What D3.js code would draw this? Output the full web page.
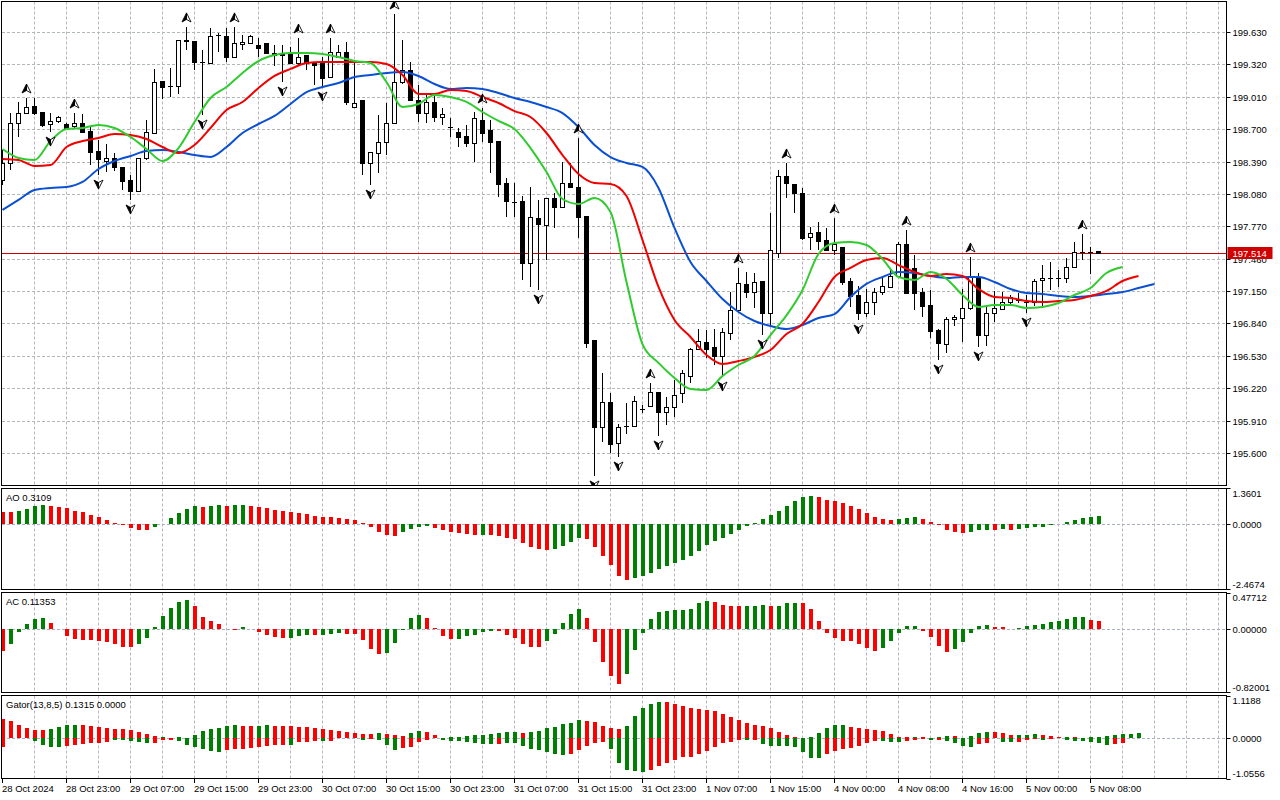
<!DOCTYPE html>
<html>
<head>
<meta charset="utf-8">
<script src="https://cdn.jsdelivr.net/npm/d3@7"></script>
<style>
body { margin: 0; background: #fff; }
svg { display: block; font-family: "Liberation Sans", Arial, sans-serif; }
</style>
</head>
<body>
<svg id="chart" width="1280" height="800"></svg>
<script>
// H1 candles, bar 0 = 28 Oct 15:00
var opens = [198.213,198.376,198.759,198.854,198.921,198.864,198.749,198.778,198.749,198.730,
198.759,198.682,198.491,198.395,198.424,198.337,198.213,198.108,198.424,198.663,
199.161,199.113,199.113,199.553,199.544,199.343,199.333,199.601,199.591,199.390,
199.515,199.524,199.505,199.524,199.429,199.419,199.429,199.333,199.410,199.333,
199.333,199.199,199.390,199.438,198.912,198.979,198.376,198.471,198.577,198.759,
199.151,199.266,198.979,198.854,198.960,198.816,198.720,198.672,198.634,198.567,
198.787,198.692,198.586,198.184,198.003,198.012,197.419,197.849,197.782,198.041,
197.955,198.184,198.146,197.868,196.682,195.849,196.088,195.695,195.858,195.858,
196.021,196.050,196.184,195.992,196.040,196.174,196.337,196.595,196.662,196.615,
196.528,196.749,196.969,197.218,197.141,197.246,196.940,197.514,198.251,198.175,
198.089,197.668,197.715,197.639,197.543,197.572,197.246,197.112,196.940,197.045,
197.141,197.189,197.294,197.600,197.371,197.141,197.017,196.777,196.643,196.883,
196.892,196.988,197.285,196.729,196.940,196.978,197.045,197.065,197.045,197.045,
197.256,197.275,197.275,197.275,197.380,197.524,197.524,197.533];
var highs = [198.500,198.854,198.960,198.998,198.998,198.864,198.854,198.826,198.759,198.854,
198.845,198.720,198.596,198.558,198.471,198.337,198.261,198.424,198.787,199.276,
199.161,199.285,199.553,199.678,199.544,199.457,199.668,199.620,199.668,199.678,
199.601,199.601,199.572,199.524,199.505,199.505,199.486,199.572,199.410,199.333,
199.390,199.572,199.505,199.534,199.362,198.979,198.481,198.835,198.950,199.802,
199.553,199.343,199.122,199.046,199.046,198.902,198.807,198.711,198.740,198.864,
198.902,198.787,198.586,198.232,198.184,198.060,198.146,198.022,198.041,198.089,
198.385,198.376,198.615,197.868,196.682,196.366,196.174,195.877,196.079,196.145,
196.059,196.270,196.184,196.136,196.299,196.394,196.605,196.787,196.777,196.787,
196.796,197.141,197.371,197.332,197.323,197.246,197.897,198.309,198.376,198.175,
198.137,197.763,197.811,197.753,197.849,197.572,197.275,197.198,197.170,197.179,
197.275,197.352,197.620,197.734,197.495,197.179,197.160,196.787,196.902,196.921,
197.170,197.476,197.323,197.017,197.150,197.141,197.112,197.131,197.112,197.266,
197.399,197.428,197.352,197.466,197.620,197.696,197.572,197.533];
var lows = [198.165,198.309,198.625,198.854,198.835,198.720,198.672,198.759,198.701,198.711,
198.672,198.357,198.260,198.290,198.300,198.117,198.022,198.098,198.404,198.663,
198.988,199.007,199.036,199.457,199.266,198.835,199.333,199.438,199.343,199.381,
199.457,199.524,199.390,199.419,199.304,199.151,199.333,199.314,199.266,199.122,
199.103,199.190,199.381,198.931,198.912,198.261,198.165,198.280,198.452,198.759,
199.132,198.979,198.768,198.759,198.768,198.740,198.625,198.529,198.529,198.385,
198.577,198.280,198.050,197.859,197.859,197.256,197.189,197.160,197.447,197.753,
197.955,198.146,197.658,196.605,195.380,195.705,195.600,195.562,195.782,195.858,
195.983,196.040,195.763,195.868,195.944,196.079,196.270,196.595,196.509,196.442,
196.327,196.682,196.949,197.084,196.988,196.729,196.825,197.466,198.041,197.897,
197.639,197.543,197.543,197.543,197.495,197.208,196.997,196.873,196.902,196.921,
197.112,197.179,197.285,197.131,196.969,196.902,196.701,196.490,196.557,196.816,
196.662,196.969,196.615,196.624,196.854,196.978,197.017,197.036,196.940,197.007,
196.997,197.160,197.189,197.227,197.371,197.447,197.313,197.505];
var closes = [198.376,198.759,198.854,198.912,198.854,198.740,198.778,198.816,198.711,198.759,
198.672,198.481,198.414,198.424,198.337,198.203,198.108,198.424,198.672,199.151,
199.103,199.108,199.553,199.544,199.343,199.338,199.591,199.601,199.390,199.524,
199.534,199.591,199.477,199.429,199.410,199.410,199.333,199.390,199.333,199.314,
199.190,199.438,199.438,198.960,198.950,198.376,198.481,198.577,198.759,199.151,
199.266,198.979,198.854,198.960,198.816,198.845,198.720,198.625,198.567,198.807,
198.663,198.577,198.175,198.012,198.003,197.419,197.859,197.792,198.041,197.955,
198.184,198.146,197.859,196.653,195.849,196.088,195.686,195.849,195.858,196.098,
196.021,196.184,195.992,196.040,196.155,196.366,196.595,196.672,196.595,196.528,
196.758,196.969,197.227,197.141,197.237,196.940,197.543,198.251,198.184,198.089,
197.658,197.706,197.629,197.543,197.600,197.237,197.103,196.940,197.045,197.141,
197.198,197.294,197.600,197.131,197.131,197.007,196.768,196.653,196.883,196.902,
196.988,197.285,196.729,196.940,196.988,197.045,197.093,197.065,197.045,197.246,
197.275,197.275,197.275,197.380,197.524,197.524,197.524,197.514];
var lastPrice = 197.514;

// Alligator, one value every second bar (bar 0, 2, 4, ...)
var jaw = [197.926,198.022,198.117,198.137,198.146,198.194,198.318,198.395,198.443,198.491,
198.500,198.481,198.452,198.433,198.529,198.663,198.749,198.826,198.941,199.055,
199.103,199.142,199.199,199.218,199.237,199.247,199.209,199.132,199.084,199.094,
199.084,199.046,198.998,198.960,198.912,198.854,198.720,198.548,198.433,198.376,
198.338,198.137,197.754,197.428,197.246,197.074,196.950,196.863,196.816,196.787,
196.825,196.892,196.930,197.093,197.218,197.285,197.332,197.323,197.294,197.275,
197.285,197.285,197.237,197.170,197.131,197.122,197.103,197.093,197.103,197.122,
197.141,197.179,197.218];
var teeth = [198.414,198.404,198.347,198.357,198.529,198.586,198.615,198.653,198.644,198.606,
198.529,198.471,198.548,198.711,198.883,198.960,199.094,199.209,199.276,199.333,
199.343,199.343,199.343,199.343,199.323,199.218,199.036,199.036,199.074,199.065,
199.007,198.950,198.873,198.816,198.663,198.452,198.270,198.184,198.175,198.060,
197.639,197.189,196.873,196.710,196.538,196.452,196.480,196.519,196.586,196.739,
196.835,197.045,197.285,197.371,197.447,197.466,197.399,197.332,197.294,197.313,
197.294,197.170,197.093,197.084,197.055,197.045,197.055,197.065,197.103,197.151,
197.246,197.294];
var lips = [198.510,198.424,198.404,198.586,198.701,198.711,198.740,198.711,198.625,198.510,
198.395,198.519,198.768,198.998,199.103,199.237,199.352,199.409,199.429,199.429,
199.419,199.390,199.352,199.333,199.151,198.912,198.941,199.027,199.007,198.960,
198.864,198.778,198.701,198.519,198.290,198.031,197.983,198.041,197.907,197.237,
196.643,196.462,196.318,196.213,196.203,196.337,196.442,196.528,196.729,196.917,
197.160,197.505,197.610,197.620,197.591,197.457,197.285,197.256,197.332,197.266,
197.112,196.998,197.017,197.017,196.988,196.998,197.036,197.112,197.179,197.323,
197.380];

var fractalUp = [3, 9, 23, 29, 37, 41, 49, 60, 72, 81, 92, 98, 104, 113, 121, 135];
var fractalDown = [6, 12, 16, 25, 35, 40, 46, 67, 74, 77, 82, 90, 95, 107, 117, 122, 128];

// Awesome oscillator
var ao = [0.45,0.44,0.50,0.58,0.67,0.73,0.69,0.65,0.59,0.50,
0.44,0.35,0.28,0.16,0.05,-0.04,-0.16,-0.24,-0.25,-0.13,
-0.02,0.21,0.40,0.57,0.67,0.65,0.69,0.73,0.69,0.70,
0.73,0.69,0.65,0.62,0.54,0.50,0.44,0.40,0.39,0.31,
0.28,0.27,0.24,0.20,0.16,0.04,-0.11,-0.31,-0.43,-0.44,
-0.31,-0.20,-0.13,-0.08,-0.16,-0.24,-0.31,-0.35,-0.39,-0.43,
-0.42,-0.43,-0.46,-0.54,-0.58,-0.73,-0.88,-0.95,-0.99,-0.95,
-0.84,-0.69,-0.54,-0.58,-0.88,-1.22,-1.56,-1.97,-2.12,-2.05,
-1.97,-1.86,-1.71,-1.60,-1.48,-1.37,-1.22,-1.03,-0.80,-0.65,
-0.54,-0.39,-0.24,-0.09,0.05,0.20,0.35,0.50,0.69,0.88,
1.03,1.07,1.03,0.92,0.88,0.80,0.69,0.58,0.43,0.28,
0.20,0.16,0.20,0.24,0.25,0.20,0.09,-0.06,-0.24,-0.31,
-0.35,-0.31,-0.24,-0.23,-0.24,-0.20,-0.24,-0.20,-0.16,-0.13,
-0.12,-0.05,-0.02,0.09,0.16,0.24,0.28,0.3109];
var aoColors = ('rrggggrrrr' + 'rrrrrrrrrg' + 'gggggrggrg' + 'grrrrrrrrr' + 'rrrrrrrrrr' +
  'ggggrrrrrr' + 'grrrrrrrrg' + 'gggrrrrrrg' + 'gggggggggg' + 'gggggggggg' +
  'ggrrrrrrrr' + 'rrgggrrrrr' + 'rgggrgrggg' + 'gggggggg').split('');

// Accelerator oscillator
var ac = [-0.29,-0.20,-0.04,0.07,0.14,0.15,0.08,0.005,-0.09,-0.13,
-0.14,-0.14,-0.15,-0.17,-0.19,-0.23,-0.23,-0.19,-0.11,0.03,
0.18,0.28,0.36,0.38,0.30,0.16,0.11,0.07,0.003,-0.005,
0.03,0.002,-0.035,-0.075,-0.10,-0.11,-0.11,-0.09,-0.075,-0.08,
-0.075,-0.06,-0.05,-0.06,-0.065,-0.14,-0.26,-0.33,-0.31,-0.18,
-0.005,0.15,0.19,0.15,0.02,-0.09,-0.13,-0.128,-0.09,-0.075,
-0.035,-0.02,-0.025,-0.075,-0.11,-0.19,-0.23,-0.235,-0.15,-0.06,
0.08,0.20,0.27,0.15,-0.17,-0.43,-0.62,-0.72,-0.59,-0.27,
-0.05,0.14,0.23,0.24,0.25,0.255,0.26,0.34,0.375,0.36,
0.32,0.31,0.30,0.305,0.31,0.32,0.30,0.305,0.34,0.35,
0.345,0.26,0.11,-0.05,-0.11,-0.15,-0.155,-0.19,-0.25,-0.29,
-0.25,-0.15,-0.05,0.04,0.045,-0.02,-0.10,-0.22,-0.30,-0.26,
-0.17,-0.05,0.04,0.06,0.03,0.025,0.005,0.02,0.04,0.06,
0.07,0.10,0.11,0.14,0.16,0.165,0.12,0.11353];
var acColors = ('rgggggrrrr' + 'rrrrrrrggg' + 'ggggrrrrrr' + 'grrrrrgggr' + 'gggrrrrrgg' +
  'gggrrrrggg' + 'ggrrrrrrgg' + 'gggrrrrrgg' + 'gggggggggr' + 'rrrgggrggg' +
  'rrrrrrrrrr' + 'gggggrrrrg' + 'ggggrrrggg' + 'ggggggrr').split('');

// Gator oscillator (upper runs to bar 142, lower to bar 141)
var gatorUp = [0.51,0.46,0.35,0.27,0.22,0.21,0.25,0.30,0.35,0.36,
0.35,0.33,0.30,0.27,0.26,0.25,0.22,0.17,0.12,0.06,
0.04,0.02,0.035,0.01,0.09,0.19,0.25,0.27,0.33,0.35,
0.33,0.32,0.33,0.35,0.34,0.34,0.33,0.30,0.29,0.27,
0.25,0.22,0.19,0.18,0.14,0.12,0.11,0.14,0.12,0.09,
0.06,0.14,0.19,0.18,0.09,0.02,0.035,0.04,0.06,0.09,
0.10,0.12,0.14,0.17,0.175,0.14,0.17,0.19,0.27,0.30,
0.38,0.41,0.49,0.46,0.43,0.33,0.27,0.25,0.33,0.59,
0.80,0.91,0.96,0.95,0.91,0.86,0.80,0.78,0.75,0.72,
0.65,0.57,0.49,0.41,0.35,0.33,0.27,0.17,0.09,0.035,
0.01,0.035,0.14,0.27,0.35,0.36,0.30,0.27,0.25,0.22,
0.19,0.12,0.035,0.03,0.035,0.03,0.02,0.035,0.06,0.055,
0.005,0.06,0.14,0.17,0.165,0.14,0.09,0.095,0.10,0.12,
0.09,0.06,0.035,0.04,0.03,0.02,0.035,0.04,0.06,0.09,
0.12,0.13,0.1315];
var gatorUpColors = ('rrrrrrgggg' + 'rrrrrrrrrr' + 'grgggggggg' + 'rrggrrrrrr' + 'rrrrrrrgrr' +
  'rggrrrgggg' + 'gggggrgggg' + 'gggrrrrrgg' + 'gggrrrrrrr' + 'rrrrrrrrrr' +
  'ggggggrrrr' + 'rrrrgrrggr' + 'rgggrrrggg' + 'rrrgrrgggg' + 'ggg').split('');
var gatorDown = [-0.22,0,0,0,-0.07,-0.18,-0.23,-0.235,-0.20,-0.18,
-0.15,-0.12,-0.12,-0.10,-0.045,-0.03,-0.07,-0.10,-0.12,-0.12,
-0.045,-0.045,-0.07,-0.18,-0.23,-0.28,-0.34,-0.345,-0.31,-0.29,
-0.28,-0.26,-0.23,-0.20,-0.18,-0.17,-0.16,-0.10,-0.10,-0.07,
-0.07,-0.065,0,0,0,-0.045,-0.01,-0.045,-0.18,-0.31,
-0.25,-0.22,-0.10,-0.03,0,-0.045,-0.07,-0.07,-0.10,-0.12,
-0.15,-0.15,-0.14,-0.12,-0.12,-0.20,-0.28,-0.31,-0.36,-0.42,
-0.44,-0.42,-0.31,-0.20,-0.12,-0.09,-0.28,-0.65,-0.84,-0.87,
-0.89,-0.84,-0.73,-0.65,-0.57,-0.50,-0.49,-0.42,-0.34,-0.23,
-0.12,-0.10,-0.045,-0.05,-0.045,-0.15,-0.20,-0.20,-0.205,-0.23,
-0.36,-0.51,-0.515,-0.42,-0.34,-0.28,-0.26,-0.20,-0.12,-0.06,
-0.07,-0.10,-0.10,-0.07,-0.045,-0.01,-0.045,-0.03,-0.07,-0.12,
-0.20,-0.23,-0.15,-0.12,0,-0.10,-0.10,-0.10,-0.045,-0.02,
-0.03,-0.01,0,-0.045,-0.07,-0.07,-0.10,-0.12,-0.18,-0.15,
-0.12,0];
var gatorDownColors = ('rrrrggggrr' + 'rrrrgggggr' + 'rrggggggrr' + 'rrrrrrgrrr' + 'grrrrgrggg' +
  'rrrrrggggg' + 'ggrggggggg' + 'grrrrrgggg' + 'grrrrrrrrr' + 'rrrgrggggg' +
  'gggrrrrrrr' + 'gggrrrgrgg' + 'ggrrrggrrr' + 'grrggggggr' + 'rr').split('');

// axis ticks
var priceTicks = [199.630, 199.320, 199.010, 198.700, 198.390, 198.080, 197.770,
  197.460, 197.150, 196.840, 196.530, 196.220, 195.910, 195.600];
var timeLabels = ['28 Oct 2024', '28 Oct 23:00', '29 Oct 07:00', '29 Oct 15:00', '29 Oct 23:00',
  '30 Oct 07:00', '30 Oct 15:00', '30 Oct 23:00', '31 Oct 07:00', '31 Oct 15:00', '31 Oct 23:00',
  '1 Nov 07:00', '1 Nov 15:00', '4 Nov 00:00', '4 Nov 08:00', '4 Nov 16:00', '5 Nov 00:00', '5 Nov 08:00'];
var timeLabelBars = [0, 8, 16, 24, 32, 40, 48, 56, 64, 72, 80, 88, 96, 104, 112, 120, 128, 136];

var GREEN = '#008000', RED = '#ff0000';
var svg = d3.select('#chart');
var chartRight = 1226.5;

var x = d3.scaleLinear().domain([0, 152]).range([2.5, 1218.5]);

var panels = [
  { id: 'main', top: 1.5, bottom: 485.5, y: d3.scaleLinear().domain([195.2936, 199.9216]).range([485, 1.5]) },
  { id: 'ao', top: 488.5, bottom: 589.5, y: d3.scaleLinear().domain([-2.4674, 1.3601]).range([589, 488]),
    title: 'AO 0.3109', ticks: [[1.3601, '1.3601'], [0, '0.0000'], [-2.4674, '-2.4674']] },
  { id: 'ac', top: 592.5, bottom: 692.5, y: d3.scaleLinear().domain([-0.82001, 0.47712]).range([691.5, 593]),
    title: 'AC 0.11353', ticks: [[0.47712, '0.47712'], [0, '0.00000'], [-0.82001, '-0.82001']] },
  { id: 'gator', top: 695.5, bottom: 778.5, y: d3.scaleLinear().domain([-1.0556, 1.1188]).range([778.5, 696]),
    title: 'Gator(13,8,5) 0.1315 0.0000', ticks: [[1.1188, '1.1188'], [0, '0.0000'], [-1.0556, '-1.0556']] }
];

svg.append('rect').attr('width', 1280).attr('height', 800).attr('fill', '#fff');

var defs = svg.append('defs');
panels.forEach(function(p) {
  defs.append('clipPath').attr('id', 'clip-' + p.id)
    .append('rect').attr('x', 2).attr('y', p.top + 0.5)
    .attr('width', chartRight - 2).attr('height', p.bottom - p.top - 1);
});

// grid lines
var gridBars = d3.range(4, 153, 4);
panels.forEach(function(p) {
  svg.append('g').selectAll('line').data(gridBars).enter().append('line')
    .attr('x1', function(d) { return Math.floor(x(d)) + 0.5; })
    .attr('x2', function(d) { return Math.floor(x(d)) + 0.5; })
    .attr('y1', p.top).attr('y2', p.bottom)
    .attr('stroke', '#bfb0c2').attr('stroke-dasharray', '3,2');
});
svg.append('g').selectAll('line').data(priceTicks).enter().append('line')
  .attr('x1', 2).attr('x2', chartRight)
  .attr('y1', function(d) { return Math.round(panels[0].y(d)) + 0.5; })
  .attr('y2', function(d) { return Math.round(panels[0].y(d)) + 0.5; })
  .attr('stroke', '#b1bab0').attr('stroke-dasharray', '3,2');
panels.slice(1).forEach(function(p) {
  svg.append('line').attr('x1', 2).attr('x2', chartRight)
    .attr('y1', Math.round(p.y(0)) + 0.5).attr('y2', Math.round(p.y(0)) + 0.5)
    .attr('stroke', '#aab0c4').attr('stroke-dasharray', '3,2');
});

// main chart
var yMain = panels[0].y;
var mainG = svg.append('g').attr('clip-path', 'url(#clip-main)');

var bidY = Math.round(yMain(lastPrice)) + 0.5;
mainG.append('line').attr('x1', 2).attr('x2', chartRight)
  .attr('y1', bidY).attr('y2', bidY)
  .attr('stroke', '#c80000').attr('stroke-width', 1);

var candles = mainG.append('g').attr('shape-rendering', 'crispEdges');
opens.forEach(function(o, i) {
  var cx = x(i), c = closes[i];
  candles.append('line').attr('x1', cx).attr('x2', cx)
    .attr('y1', yMain(highs[i])).attr('y2', yMain(lows[i]))
    .attr('stroke', '#000');
  var yt = Math.round(yMain(Math.max(o, c))), yb = Math.round(yMain(Math.min(o, c)));
  if (yb - yt < 1) {
    candles.append('line').attr('x1', cx - 2.5).attr('x2', cx + 2.5)
      .attr('y1', yt + 0.5).attr('y2', yt + 0.5).attr('stroke', '#000');
  } else {
    candles.append('rect').attr('x', cx - 2).attr('y', yt + 0.5)
      .attr('width', 4).attr('height', yb - yt)
      .attr('fill', c > o ? '#fff' : '#000').attr('stroke', '#000');
  }
});

function alligator(values, color) {
  var line = d3.line()
    .x(function(d, k) { return x(k * 2); })
    .y(function(d) { return yMain(d); })
    .curve(d3.curveMonotoneX);
  mainG.append('path').datum(values).attr('d', line)
    .attr('fill', 'none').attr('stroke', color).attr('stroke-width', 2);
}
alligator(jaw, '#0b50d2');
alligator(teeth, '#f00000');
alligator(lips, '#2fcb2f');

function fractal(i, dir) {
  // dir 1 = up arrow above the high, -1 = down arrow below the low
  var cx = x(i);
  var cy = dir > 0 ? yMain(highs[i]) - 9 : yMain(lows[i]) + 9;
  var s = dir;
  mainG.append('path')
    .attr('d', 'M' + cx + ',' + (cy - 5 * s) + 'L' + (cx + 4.5) + ',' + (cy + 4 * s) + 'L' + cx + ',' + (cy + 1.5 * s) + 'Z')
    .attr('fill', '#fff').attr('stroke', '#000').attr('stroke-width', 0.9);
  mainG.append('path')
    .attr('d', 'M' + cx + ',' + (cy - 5 * s) + 'L' + (cx - 4.5) + ',' + (cy + 4 * s) + 'L' + cx + ',' + (cy + 1.5 * s) + 'Z')
    .attr('fill', '#000').attr('stroke', '#000').attr('stroke-width', 0.9);
}
fractalUp.forEach(function(i) { fractal(i, 1); });
fractalDown.forEach(function(i) { fractal(i, -1); });

// histograms
function histogram(p, values, colors, width) {
  var g = svg.append('g').attr('clip-path', 'url(#clip-' + p.id + ')').attr('shape-rendering', 'crispEdges');
  var y0 = Math.round(p.y(0));
  g.selectAll('rect.b').data(values).enter().append('rect')
    .attr('x', function(d, i) { return Math.round(x(i) - width / 2 + 0.5); })
    .attr('y', function(d) { return Math.min(y0, Math.round(p.y(d))); })
    .attr('width', width)
    .attr('height', function(d) { return Math.abs(Math.round(p.y(d)) - y0); })
    .attr('fill', function(d, i) { return colors[i] === 'g' ? GREEN : RED; });
}
histogram(panels[1], ao, aoColors, 4);
histogram(panels[2], ac, acColors, 4);
histogram(panels[3], gatorUp, gatorUpColors, 4);
histogram(panels[3], gatorDown, gatorDownColors, 4);

// frames
panels.forEach(function(p) {
  svg.append('rect').attr('x', 1.5).attr('y', p.top)
    .attr('width', chartRight - 1.5).attr('height', p.bottom - p.top)
    .attr('fill', 'none').attr('stroke', '#000');
});

// right price axis
var axisG = svg.append('g').attr('font-size', '9.5px').attr('fill', '#000');
priceTicks.forEach(function(v) {
  var yy = Math.round(yMain(v)) + 0.5;
  axisG.append('line').attr('x1', chartRight).attr('x2', chartRight + 4)
    .attr('y1', yy).attr('y2', yy).attr('stroke', '#000');
  axisG.append('text').attr('x', chartRight + 6).attr('y', yy + 3.5).text(v.toFixed(3));
});
panels.slice(1).forEach(function(p) {
  p.ticks.forEach(function(t) {
    var yy = Math.round(p.y(t[0])) + 0.5;
    axisG.append('line').attr('x1', chartRight).attr('x2', chartRight + 4)
      .attr('y1', yy).attr('y2', yy).attr('stroke', '#000');
    var ty = Math.max(p.top + 5, Math.min(p.bottom - 5, yy));
    axisG.append('text').attr('x', chartRight + 6).attr('y', ty + 3.5).text(t[1]);
  });
  svg.append('text').attr('x', 6).attr('y', p.top + 12)
    .attr('font-size', '9.5px').text(p.title);
});

// last price tag (it covers part of the 197.460 label, as in the terminal)
svg.append('rect').attr('x', chartRight + 1).attr('y', bidY - 6.5)
  .attr('width', 45).attr('height', 12).attr('fill', '#d00000');
svg.append('text').attr('x', chartRight + 6).attr('y', bidY + 3.5)
  .attr('font-size', '9.5px').attr('fill', '#fff').text(lastPrice.toFixed(3));

// time axis
var timeG = svg.append('g').attr('font-size', '9.5px');
timeLabelBars.forEach(function(b, k) {
  var tx = Math.floor(x(b)) + 0.5;
  timeG.append('line').attr('x1', tx).attr('x2', tx).attr('y1', 778.5).attr('y2', 783)
    .attr('stroke', '#000');
  timeG.append('text').attr('x', tx - 0.5).attr('y', 792).text(timeLabels[k]);
});
</script>
</body>
</html>
